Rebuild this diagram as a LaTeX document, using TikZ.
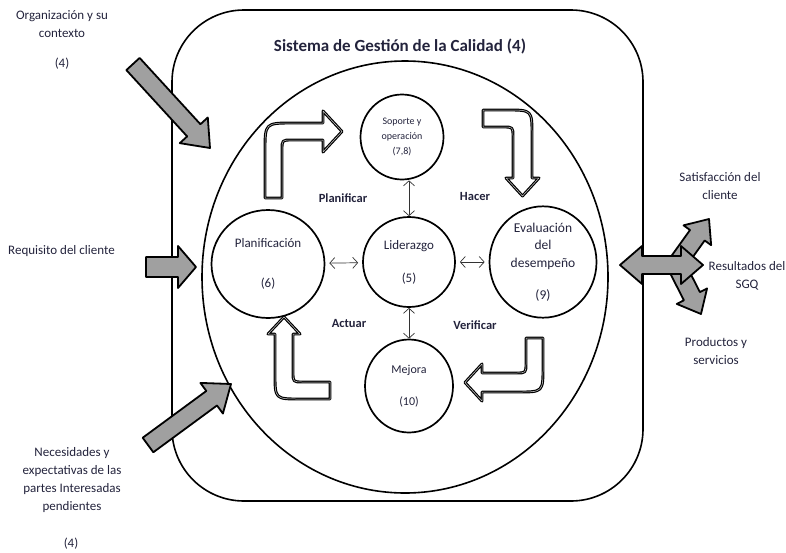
\documentclass[tikz,border=0pt]{standalone}
\usepackage{fontspec}
\setmainfont{Carlito}
\usetikzlibrary{calc,arrows.meta,shapes.geometric}

\definecolor{ink}{RGB}{35,35,60}
\definecolor{stonegray}{RGB}{160,160,160}

% thick grey input/output arrow: tail, tip, shaft half width, head half width, head length
\newcommand\stonearrow[5]{%
  \path ($(#2)!#5!(#1)$) coordinate (neck);
  \draw[stone] ($(#1)!#3!90:(#2)$) -- ($(neck)!#3!90:(#2)$) -- ($(neck)!#4!90:(#2)$)
    -- (#2) -- ($(neck)!#4!-90:(#2)$) -- ($(neck)!#3!-90:(#2)$) -- ($(#1)!#3!-90:(#2)$) -- cycle;
}
% grey arrow with a head at both ends
\newcommand\stonedouble[5]{%
  \path ($(#1)!#5!(#2)$) coordinate (necka) ($(#2)!#5!(#1)$) coordinate (neckb);
  \draw[stone] (#1) -- ($(necka)!#4!90:(#2)$) -- ($(necka)!#3!90:(#2)$) -- ($(neckb)!#3!90:(#2)$)
    -- ($(neckb)!#4!90:(#2)$) -- (#2) -- ($(neckb)!#4!-90:(#2)$) -- ($(neckb)!#3!-90:(#2)$)
    -- ($(necka)!#3!-90:(#2)$) -- ($(necka)!#4!-90:(#2)$) -- cycle;
}

\begin{document}
\begin{tikzpicture}[x=1pt,y=-1pt,
  frame/.style={draw=black, line width=1.6pt},
  proc/.style={ellipse, draw=black, line width=1.7pt, inner sep=0pt, align=center, text=ink},
  stone/.style={draw=black, line width=1.8pt, fill=stonegray, line join=round},
  bent/.style={draw=black, line width=1.2pt, double=gray!35, double distance=0.5pt, fill=white, line join=round},
  thinarr/.style={{Straight Barb[length=5pt,width=11pt]}-{Straight Barb[length=5pt,width=11pt]},
    line width=0.7pt, draw=black!80},
  outer/.style={text=ink, align=center, inner sep=0pt, font=\fontsize{13}{18}\selectfont},
  phase/.style={text=ink, inner sep=0pt, font=\bfseries\fontsize{12.5}{14}\selectfont},
]
\useasboundingbox (0,0) rectangle (786,552);

% system boundary and title
\draw[frame, rounded corners=72pt] (172,10) rectangle (643,501);
\node[text=ink, font=\bfseries\fontsize{17}{19}\selectfont, inner sep=0pt] (title) at (400,46)
  {Sistema de Gestión de la Calidad (4)};

% PDCA ring
\node[ellipse, draw=black, line width=1.6pt, minimum width=406pt, minimum height=432pt] (ring) at (405,277) {};

% clauses
\node[proc, minimum width=83pt, minimum height=85pt, font=\fontsize{10}{15}\selectfont] (sop) at (402,137)
  {Soporte y\\operación\\(7,8)};
\node[proc, minimum width=92pt, minimum height=90pt, font=\fontsize{13}{15}\selectfont] (lid) at (409,262)
  {Liderazgo\\[18pt](5)};
\node[proc, minimum width=113pt, minimum height=108pt, font=\fontsize{13}{15}\selectfont] (pla) at (268,264)
  {Planificación\\[25pt](6)};
\node[proc, minimum width=107pt, minimum height=98pt, font=\fontsize{13.5}{17.5}\selectfont] (eva) at (543,262)
  {Evaluación\\del\\desempeño\\[15pt](9)};
\node[proc, minimum width=88pt, minimum height=93pt, font=\fontsize{12}{14}\selectfont] (mej) at (409,386)
  {Mejora\\[18pt](10)};

% links to leadership
\draw[thinarr] (sop.south -| lid.north) -- (lid.north);
\draw[thinarr] (lid.south) -- (lid.south |- mej.north);
\draw[thinarr, shorten <=4pt, shorten >=4pt] (pla) -- (lid);
\draw[thinarr, shorten <=4pt, shorten >=4pt] (lid) -- (eva);

% PDCA labels
\node[phase] (plan) at (343,198) {Planificar};
\node[phase] (hacer) at (475,196) {Hacer};
\node[phase] (actuar) at (349,323) {Actuar};
\node[phase] (verif) at (475,325) {Verificar};

% cycle arrows
\draw[bent] (265,198) -- (265,151) .. controls (265,123) .. (293,123) -- (323,123) -- (323,111)
  -- (342,131.5) -- (323,152) -- (323,140) -- (292,140) .. controls (282,140) .. (282,150) -- (282,198) -- cycle;
\draw[bent] (483,110) -- (507,110) .. controls (532,110) .. (532,135) -- (532,178) -- (539,178)
  -- (522.5,196) -- (506,178) -- (513,178) -- (513,137) .. controls (513,127) .. (503,127) -- (483,127) -- cycle;
\draw[bent] (526,338) -- (543,338) -- (543,367) .. controls (543,392) .. (518,392) -- (482,392) -- (482,401)
  -- (465,382.5) -- (482,364) -- (482,373) -- (516,373) .. controls (526,373) .. (526,363) -- cycle;
\draw[bent] (330,382) -- (303,382) .. controls (293,382) .. (293,372) -- (293,334) -- (300,334)
  -- (284,317) -- (268,334) -- (275,334) -- (275,374) .. controls (275,399) .. (300,399) -- (330,399) -- cycle;

% inputs
\node[outer] (org) at (62,24) {Organización y su\\contexto};
\node[outer] (orgref) at (62,64) {(4)};
\node[outer, anchor=west] (req) at (8,251) {Requisito del cliente};
\node[outer] (nec) at (72,480) {Necesidades y\\expectativas de las\\partes Interesadas\\pendientes};
\node[outer] (necref) at (71,544) {(4)};

\coordinate (in1a) at (133,64);  \coordinate (in1b) at (210,148);
\coordinate (in2a) at (146,267); \coordinate (in2b) at (196,267);
\coordinate (in3a) at (148,445); \coordinate (in3b) at (231,384);
\stonearrow{in1a}{in1b}{9pt}{19pt}{24pt}
\stonearrow{in2a}{in2b}{10pt}{21pt}{18pt}
\stonearrow{in3a}{in3b}{9pt}{19pt}{24pt}

% outputs
\node[outer] (sat) at (720,186) {Satisfacción del\\cliente};
\node[outer] (res) at (747,276) {Resultados del\\SGQ};
\node[outer] (prod) at (716,351) {Productos y\\servicios};

\coordinate (hub) at (676,265);
\coordinate (outup) at (709,219);
\coordinate (outdown) at (701,314);
\coordinate (outl) at (620,265);
\coordinate (outr) at (703,265);
\stonearrow{hub}{outup}{9pt}{17pt}{20pt}
\stonearrow{hub}{outdown}{9pt}{17pt}{20pt}
\stonedouble{outl}{outr}{9pt}{19pt}{22pt}
\end{tikzpicture}
\end{document}
